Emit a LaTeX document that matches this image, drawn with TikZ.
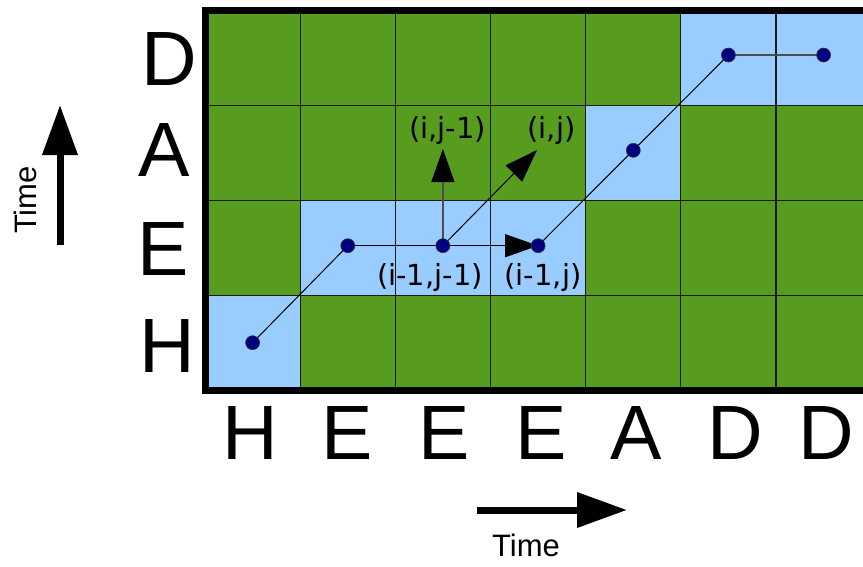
\documentclass[tikz,border=0pt]{standalone}
\usepackage{fontspec}
\setmainfont{Liberation Sans}
\newfontfamily\dejavu{DejaVu Sans}
\usetikzlibrary{arrows.meta}
\definecolor{cellgreen}{HTML}{579B1F}
\definecolor{cellblue}{HTML}{99CCFF}
\definecolor{dotblue}{HTML}{000080}
\pgfdeclarelayer{bg}
\pgfdeclarelayer{lines}
\pgfsetlayers{bg,lines,main}
\tikzset{
  gridline/.style={draw=black!90, line width=1.2pt},
  border/.style={draw=black, line width=7pt},
  dotnode/.style={circle, fill=dotblue, draw=black!80, line width=0.6pt, minimum size=14pt, inner sep=0pt},
  pathline/.style={draw=black, line width=1pt},
  bighead/.style={-{Triangle[length=33pt,width=23pt,color=black]}},
  cellabel/.style={inner sep=0pt, font=\dejavu\fontsize{29}{29}\selectfont},
  bigletter/.style={inner sep=0pt, font=\fontsize{77}{77}\selectfont},
  timelabel/.style={inner sep=0pt, font=\fontsize{31}{31}\selectfont},
  timearrow/.style={draw=black, line width=7pt, -{Triangle[length=50pt,width=34pt]}}
}
\begin{document}
\begin{tikzpicture}[x=1pt,y=-1pt]
\useasboundingbox (0,0) rectangle (863,566);
\clip (0,0) rectangle (863,566);
\begin{pgfonlayer}{bg}
  % green cells
  \foreach \c in {0,...,6} \foreach \r in {0,...,3}
    \fill[cellgreen] ({205+95.17*\c},{10.5+94.9*\r}) rectangle ({205+95.17*(\c+1)},{10.5+94.9*(\r+1)});
  % blue cells
  \foreach \c/\r in {0/3,1/2,2/2,3/2,4/1,5/0,6/0}
    \fill[cellblue] ({205+95.17*\c},{10.5+94.9*\r}) rectangle ({205+95.17*(\c+1)},{10.5+94.9*(\r+1)});
  % grid lines
  \foreach \c in {1,...,7}
    \draw[gridline] ({205+95.17*\c},10.5) -- ({205+95.17*\c},390.1);
  \foreach \r in {1,...,3}
    \draw[gridline] (205,{10.5+94.9*\r}) -- (880,{10.5+94.9*\r});
  % thick border
  \draw[border] (880,10.5) -- (205,10.5) -- (205,390.1) -- (880,390.1);
\end{pgfonlayer}

% dots
\node[dotnode] (d1) at (252.6,342.7) {};
\node[dotnode] (d2) at (347.8,245.7) {};
\node[dotnode] (d3) at (442.9,245.7) {};
\node[dotnode] (d4) at (538.1,245.7) {};
\node[dotnode] (d5) at (633.3,150.3) {};
\node[dotnode] (d6) at (728.4,55) {};
\node[dotnode] (d7) at (823.6,55) {};
\coordinate (up) at (442.9,149);
\coordinate (diag) at (537,150);

\begin{pgfonlayer}{lines}
  \draw[pathline] (d1.center) -- (d2.center);
  \draw[pathline, line width=1.3pt] (d2.center) -- (d3.center);
  \draw[pathline, line width=1.3pt, bighead] (d3.center) -- (d4.center);
  \draw[pathline, draw=black!70, line width=1.4pt, bighead] (d3.center) -- (up);
  \draw[pathline, bighead] (d3.center) -- (diag);
  \draw[pathline] (d4.center) -- (d5.center);
  \draw[pathline] (d5.center) -- (d6.center);
  \draw[pathline, draw=black!70, line width=1.4pt] (d6.center) -- (d7.center);
\end{pgfonlayer}

% cell labels
\node[cellabel] (lij1) at (447.5,130) {(i,j-1)};
\node[cellabel] (lij) at (551.5,130) {(i,j)};
\node[cellabel] (li1j1) at (430,277) {(i-1,j-1)};
\node[cellabel] (li1j) at (543,277) {(i-1,j)};

% left letters
\node[bigletter] (yD) at (169,59) {D};
\node[bigletter] (yA) at (164,150.5) {A};
\node[bigletter] (yE) at (163,249) {E};
\node[bigletter] (yH) at (167,346) {H};

% bottom letters
\node[bigletter] (xH) at (250,433) {H};
\node[bigletter] (xE1) at (347,433) {E};
\node[bigletter] (xE2) at (444,433) {E};
\node[bigletter] (xE3) at (541,433) {E};
\node[bigletter] (xA) at (636,433) {A};
\node[bigletter] (xD1) at (735,433) {D};
\node[bigletter] (xD2) at (826,433) {D};

% time arrows
\coordinate (tv0) at (60,245);
\coordinate (tv1) at (60,105);
\draw[timearrow] (tv0) -- (tv1);
\node[timelabel, rotate=90] (tvl) at (25,200) {Time};
\coordinate (th0) at (477,510);
\coordinate (th1) at (627,510);
\draw[timearrow] (th0) -- (th1);
\node[timelabel] (thl) at (526,545) {Time};
\end{tikzpicture}
\end{document}
